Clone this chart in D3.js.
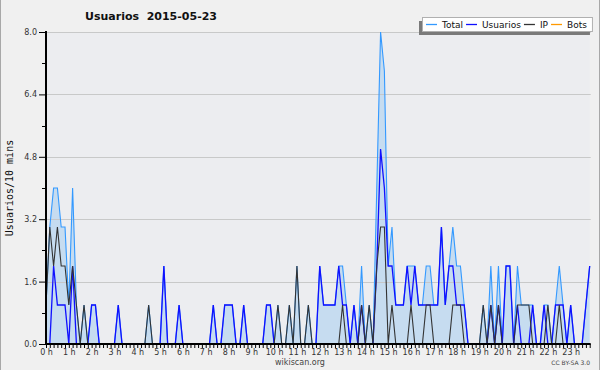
<!DOCTYPE html>
<html>
<head>
<meta charset="utf-8">
<script src="https://cdn.jsdelivr.net/npm/d3@7"></script>
<style>
  body { margin: 0; background: #f0f0f0; }
  svg { display: block; font-family: "DejaVu Sans", sans-serif; }
</style>
</head>
<body>
<script>
// one value per 10 minutes, 144 slots
const hourLabels = ['0 h', '1 h', '2 h', '3 h', '4 h', '5 h', '6 h', '7 h', '8 h', '9 h', '10 h', '11 h',
  '12 h', '13 h', '14 h', '15 h', '16 h', '17 h', '18 h', '19 h', '20 h', '21 h', '22 h', '23 h'];
const yTicks = [0, 1.6, 3.2, 4.8, 6.4, 8.0];
const seriesNames = ['Total', 'Usuarios', 'IP', 'Bots'];

const total = [
  1, 3, 4, 4, 3, 3, 1, 4, 1, 0, 1, 0,
  1, 1, 0, 0, 0, 0, 0, 1, 0, 0, 0, 0,
  0, 0, 0, 1, 0, 0, 0, 2, 0, 0, 0, 1,
  0, 0, 0, 0, 0, 0, 0, 0, 1, 0, 0, 1,
  1, 1, 0, 0, 1, 0, 0, 0, 0, 0, 1, 1,
  0, 1, 0, 0, 1, 0, 2, 0, 0, 1, 0, 0,
  2, 1, 1, 1, 1, 2, 2, 1, 0, 1, 0, 2,
  0, 1, 0, 4, 8, 7, 2, 3, 1, 1, 1, 2,
  2, 2, 1, 1, 2, 2, 1, 1, 3, 1, 2, 3,
  2, 2, 1, 0, 0, 0, 0, 1, 0, 2, 0, 2,
  0, 2, 2, 0, 2, 1, 1, 1, 1, 0, 0, 1,
  1, 0, 1, 2, 1, 0, 1, 0, 0, 0, 1, 2
];
const usuarios = [
  0, 0, 2, 1, 1, 1, 0, 2, 0, 0, 0, 0,
  1, 1, 0, 0, 0, 0, 0, 1, 0, 0, 0, 0,
  0, 0, 0, 0, 0, 0, 0, 2, 0, 0, 0, 1,
  0, 0, 0, 0, 0, 0, 0, 0, 1, 0, 0, 1,
  1, 1, 0, 0, 1, 0, 0, 0, 0, 0, 1, 1,
  0, 0, 0, 0, 0, 0, 0, 0, 0, 0, 0, 0,
  2, 1, 1, 1, 1, 2, 1, 1, 0, 1, 0, 1,
  0, 0, 0, 2, 5, 4, 2, 2, 1, 1, 1, 2,
  1, 2, 1, 1, 1, 1, 1, 1, 3, 1, 2, 2,
  1, 1, 1, 0, 0, 0, 0, 0, 0, 1, 0, 1,
  0, 2, 2, 0, 1, 0, 0, 0, 1, 0, 0, 1,
  0, 0, 1, 1, 1, 0, 1, 0, 0, 0, 1, 2
];
const ip = [
  1, 3, 2, 3, 2, 2, 1, 2, 1, 0, 1, 0,
  0, 0, 0, 0, 0, 0, 0, 0, 0, 0, 0, 0,
  0, 0, 0, 1, 0, 0, 0, 0, 0, 0, 0, 0,
  0, 0, 0, 0, 0, 0, 0, 0, 0, 0, 0, 0,
  0, 0, 0, 0, 0, 0, 0, 0, 0, 0, 0, 0,
  0, 1, 0, 0, 1, 0, 2, 0, 0, 1, 0, 0,
  0, 0, 0, 0, 0, 0, 1, 0, 0, 0, 0, 1,
  0, 1, 0, 2, 3, 3, 0, 1, 0, 0, 0, 0,
  1, 0, 0, 0, 1, 1, 0, 0, 0, 0, 0, 1,
  1, 1, 0, 0, 0, 0, 0, 1, 0, 1, 0, 1,
  0, 0, 0, 0, 1, 1, 1, 1, 0, 0, 0, 0,
  1, 0, 0, 1, 0, 0, 0, 0, 0, 0, 0, 0
];
const bots = [
  0, 0, 0, 0, 0, 0, 0, 0, 0, 0, 0, 0,
  0, 0, 0, 0, 0, 0, 0, 0, 0, 0, 0, 0,
  0, 0, 0, 0, 0, 0, 0, 0, 0, 0, 0, 0,
  0, 0, 0, 0, 0, 0, 0, 0, 0, 0, 0, 0,
  0, 0, 0, 0, 0, 0, 0, 0, 0, 0, 0, 0,
  0, 0, 0, 0, 0, 0, 0, 0, 0, 0, 0, 0,
  0, 0, 0, 0, 0, 0, 0, 0, 0, 0, 0, 0,
  0, 0, 0, 0, 0, 0, 0, 0, 0, 0, 0, 0,
  0, 0, 0, 0, 0, 0, 0, 0, 0, 0, 0, 0,
  0, 0, 0, 0, 0, 0, 0, 0, 0, 0, 0, 0,
  0, 0, 0, 0, 0, 0, 0, 0, 0, 0, 0, 0,
  0, 0, 0, 0, 0, 0, 0, 0, 0, 0, 0, 0
];

const width = 600;
const height = 370;
const plotLeft = 46;
const plotRight = 589.7;
const plotTop = 32;
const plotBottom = 344;

const colors = ['#3399ff', '#1010ff', '#333333', '#ff9900'];

const x = d3.scaleLinear().domain([0, total.length - 1]).range([plotLeft, plotRight]);
const y = d3.scaleLinear().domain([0, 8]).range([plotBottom, plotTop]);

const svg = d3.select('body')
  .append('svg')
  .attr('width', width)
  .attr('height', height);

// background and side borders
svg.append('rect').attr('width', width).attr('height', height).attr('fill', '#f0f0f0');
svg.append('rect')
  .attr('x', plotLeft).attr('y', plotTop)
  .attr('width', plotRight - plotLeft).attr('height', plotBottom - plotTop)
  .attr('fill', '#ecedf0');
svg.append('line').attr('x1', 0.5).attr('x2', 0.5).attr('y1', 0).attr('y2', height)
  .attr('stroke', '#a8a8a8');
svg.append('line').attr('x1', width - 0.5).attr('x2', width - 0.5).attr('y1', 0).attr('y2', height)
  .attr('stroke', '#a8a8a8');

// title
svg.append('text')
  .attr('x', 151).attr('y', 20)
  .attr('text-anchor', 'middle')
  .attr('font-size', 11).attr('font-weight', 'bold')
  .attr('fill', '#111')
  .style('white-space', 'pre')
  .text('Usuarios  2015-05-23');

// area under the total
const area = d3.area()
  .x((d, i) => x(i))
  .y0(y(0))
  .y1(d => y(d));

svg.append('path')
  .datum(total)
  .attr('d', area)
  .attr('fill', '#c6dcf0');

// grid
svg.append('g')
  .selectAll('line')
  .data(yTicks.filter(v => v > 0))
  .enter().append('line')
    .attr('x1', plotLeft).attr('x2', plotRight + 1)
    .attr('y1', d => Math.round(y(d)) + 0.5)
    .attr('y2', d => Math.round(y(d)) + 0.5)
    .attr('stroke', '#c4c4c4')
    .attr('stroke-opacity', 0.9);

// lines
const line = d3.line()
  .x((d, i) => x(i))
  .y(d => y(d));

const series = [total, usuarios, ip, bots];
const widths = [1.1, 1.3, 1.1, 1.1];
[3, 0, 1, 2].forEach((k) => {
  svg.append('path')
    .datum(series[k])
    .attr('d', line)
    .attr('fill', 'none')
    .attr('stroke', colors[k])
    .attr('stroke-width', widths[k])
    .attr('stroke-linejoin', 'miter');
});

// y axis
const yAxis = d3.axisLeft(y)
  .tickValues(yTicks)
  .tickFormat(d3.format('.1f'))
  .tickSize(7)
  .tickPadding(2);

const gy = svg.append('g')
  .attr('transform', `translate(${plotLeft},0)`)
  .call(yAxis);
gy.select('.domain').remove();
gy.selectAll('.tick line').attr('stroke', '#000');
gy.selectAll('.tick text')
  .attr('font-family', '"DejaVu Sans", sans-serif')
  .attr('font-size', 8)
  .attr('fill', '#333');

const minor = d3.range(0.8, 8, 1.6);
svg.append('g')
  .selectAll('line')
  .data(minor)
  .enter().append('line')
    .attr('x1', plotLeft - 4).attr('x2', plotLeft)
    .attr('y1', d => Math.round(y(d)) + 0.5)
    .attr('y2', d => Math.round(y(d)) + 0.5)
    .attr('stroke', '#000');

svg.append('line')
  .attr('x1', plotLeft).attr('x2', plotLeft)
  .attr('y1', plotTop - 1).attr('y2', plotBottom + 1)
  .attr('stroke', '#000').attr('stroke-width', 2);

// x axis, one tick per 10 minutes
const xAxis = d3.axisBottom(x)
  .tickValues(d3.range(0, total.length))
  .tickSize(4)
  .tickFormat(d => (d % 6 === 0 ? hourLabels[d / 6] : ''));

const gx = svg.append('g')
  .attr('transform', `translate(0,${plotBottom})`)
  .call(xAxis);
gx.select('.domain').remove();
gx.selectAll('.tick line').attr('stroke', '#000');
gx.selectAll('.tick text')
  .attr('font-family', '"DejaVu Sans", sans-serif')
  .attr('font-size', 8)
  .attr('fill', '#333')
  .attr('dy', '0.55em');

svg.append('line')
  .attr('x1', plotLeft - 1).attr('x2', plotRight + 1)
  .attr('y1', plotBottom).attr('y2', plotBottom)
  .attr('stroke', '#000').attr('stroke-width', 2);

// y label
svg.append('text')
  .attr('transform', 'translate(13,188) rotate(-90)')
  .attr('text-anchor', 'middle')
  .attr('font-family', '"DejaVu Sans Mono", monospace')
  .attr('font-size', 10)
  .attr('fill', '#111')
  .text('Usuarios/10 mins');

// footer
svg.append('text')
  .attr('x', 300).attr('y', 365)
  .attr('text-anchor', 'middle')
  .attr('font-size', 8)
  .attr('fill', '#444')
  .text('wikiscan.org');

svg.append('text')
  .attr('x', 590).attr('y', 365)
  .attr('text-anchor', 'end')
  .attr('font-size', 6)
  .attr('fill', '#444')
  .text('CC BY-SA 3.0');

// legend
const legend = svg.append('g');
const shadow = legend.append('rect').attr('fill', '#7a7a7a');
const box = legend.append('rect').attr('fill', '#fff').attr('stroke', '#b0b0b0');

let lx = 426;
seriesNames.forEach((name, k) => {
  legend.append('line')
    .attr('x1', lx).attr('x2', lx + 11)
    .attr('y1', 24.5).attr('y2', 24.5)
    .attr('stroke', colors[k]).attr('stroke-width', 1.3);
  const t = legend.append('text')
    .attr('x', lx + 16).attr('y', 28)
    .attr('font-size', 9)
    .attr('fill', '#111')
    .text(name);
  lx += 16 + t.node().getComputedTextLength() + 3;
});

box.attr('x', 422.5).attr('y', 17.5).attr('width', lx - 422 + 2).attr('height', 14);
shadow.attr('x', 419).attr('y', 21).attr('width', lx - 422 + 3).attr('height', 14);
</script>
</body>
</html>
